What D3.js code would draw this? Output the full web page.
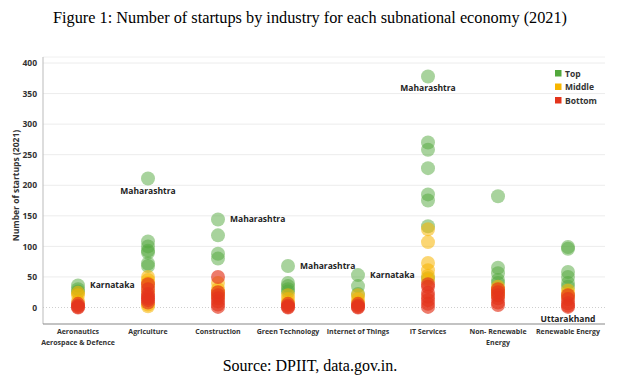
<!DOCTYPE html>
<html><head><meta charset="utf-8">
<script src="https://cdn.jsdelivr.net/npm/d3@7"></script>
<style>body{margin:0;background:#fff}svg{display:block}</style>
</head><body>
<script>
const categories = ["Aeronautics\nAerospace & Defence","Agriculture","Construction","Green Technology","Internet of Things","IT Services","Non- Renewable\nEnergy","Renewable Energy"];
const topValues = [
  [36, 30, 26],
  [211, 108, 100, 93, 90, 72, 68],
  [144, 118, 88, 80],
  [68, 40, 35, 30, 26],
  [53, 35, 22],
  [378, 270, 258, 228, 185, 175, 133, 48],
  [182, 65, 56, 45, 40],
  [99, 96, 58, 50, 40, 34]
];
const middleValues = [
  [24, 20, 10],
  [50, 45, 40, 35, 25, 5, 2],
  [40, 30, 25, 18],
  [20, 14, 8],
  [20, 14, 8],
  [128, 107, 73, 61, 52, 45],
  [34, 30, 25, 20],
  [28, 22, 17]
];
const bottomValues = [
  [6, 3, 1, 0],
  [38, 30, 22, 18, 15, 12, 8],
  [50, 25, 20, 15, 10, 5, 1],
  [6, 3, 1, 0],
  [6, 3, 1, 0],
  [38, 34, 24, 18, 12, 6, 1],
  [30, 25, 20, 15, 8, 4],
  [20, 14, 7, 3, 1]
];
const yTicks = [0, 50, 100, 150, 200, 250, 300, 350, 400];
const groups = ["Top", "Middle", "Bottom"];
const colors = ["#52a83c", "#f7b500", "#e3341c"];
const annotations = [
  {cat: 0, value: 36, name: "Karnataka", pos: "right"},
  {cat: 1, value: 211, name: "Maharashtra", pos: "below"},
  {cat: 2, value: 144, name: "Maharashtra", pos: "right"},
  {cat: 3, value: 68, name: "Maharashtra", pos: "right"},
  {cat: 4, value: 53, name: "Karnataka", pos: "right"},
  {cat: 5, value: 378, name: "Maharashtra", pos: "below"},
  {cat: 7, value: 1, name: "Uttarakhand", pos: "below"}
];

const W = 627, H = 382;
const svg = d3.select("body").append("svg").attr("width", W).attr("height", H);
const pLeft = 43, pRight = 603, pTop = 57, pBottom = 324;

const x = d3.scaleBand().domain(d3.range(categories.length)).range([pLeft, pRight]);
const y = d3.scaleLinear().domain([0, 400]).range([307.5, 63]);

svg.append("text").attr("x", 310).attr("y", 23).attr("text-anchor", "middle")
  .attr("font-family", "Liberation Serif, Times New Roman, serif").attr("font-size", 16.3)
  .attr("fill", "#000").text("Figure 1: Number of startups by industry for each subnational economy (2021)");

svg.append("text").attr("x", 310).attr("y", 371).attr("text-anchor", "middle")
  .attr("font-family", "Liberation Serif, Times New Roman, serif").attr("font-size", 16)
  .attr("fill", "#000").text("Source: DPIIT, data.gov.in.");

// grid
svg.append("g").selectAll("line").data(yTicks).join("line")
  .attr("x1", pLeft).attr("x2", pRight + 2).attr("y1", d => y(d)).attr("y2", d => y(d))
  .attr("stroke", d => d === 0 ? "#cfcfcf" : "#ececec").attr("stroke-width", 1)
  .attr("stroke-dasharray", d => d === 0 ? "1,2" : null);
svg.append("line").attr("x1", pLeft).attr("x2", pRight + 2).attr("y1", pTop).attr("y2", pTop)
  .attr("stroke", "#f0f0f0");

// y axis
const yAxis = d3.axisLeft(y).tickValues(yTicks).tickSize(0).tickPadding(6);
const gy = svg.append("g").attr("transform", `translate(${pLeft},0)`).call(yAxis);
gy.select(".domain").remove();
gy.selectAll("text").attr("font-family", "Open Sans, DejaVu Sans, sans-serif").attr("font-size", 8.5)
  .attr("font-weight", "bold").attr("fill", "#333");
svg.append("line").attr("x1", pLeft).attr("x2", pLeft).attr("y1", pTop).attr("y2", pBottom).attr("stroke", "#bbb");
svg.append("line").attr("x1", pLeft).attr("x2", pRight + 2).attr("y1", pBottom).attr("y2", pBottom).attr("stroke", "#888").attr("stroke-width", 1.2);

svg.append("text").attr("transform", `translate(19,${(pTop + pBottom) / 2 - 5}) rotate(-90)`)
  .attr("text-anchor", "middle").attr("font-family", "Open Sans, DejaVu Sans, sans-serif")
  .attr("font-size", 8.5).attr("font-weight", "bold").attr("fill", "#333").text("Number of startups (2021)");

// x labels
const gx = svg.append("g");
categories.forEach((c, i) => {
  const t = gx.append("text").attr("x", x(i) + x.bandwidth() / 2).attr("y", 334)
    .attr("text-anchor", "middle").attr("font-family", "Open Sans, DejaVu Sans, sans-serif")
    .attr("font-size", 7).attr("font-weight", "bold").attr("fill", "#333");
  c.split("\n").forEach((line, k) => t.append("tspan").attr("x", x(i) + x.bandwidth() / 2).attr("dy", k ? 11 : 0).text(line));
});

// points
const series = [topValues, middleValues, bottomValues];
const opac = [0.5, 0.55, 0.65];
series.forEach((vals, g) => {
  const pts = [];
  vals.forEach((arr, i) => arr.forEach(v => pts.push({i, v})));
  svg.append("g").selectAll("circle").data(pts).join("circle")
    .attr("cx", d => x(d.i) + x.bandwidth() / 2).attr("cy", d => y(d.v)).attr("r", 7)
    .attr("fill", colors[g]).attr("fill-opacity", opac[g]);
});

// annotations
annotations.forEach(a => {
  const cx = x(a.cat) + x.bandwidth() / 2, cy = y(a.value);
  const t = svg.append("text").attr("font-family", "Open Sans, DejaVu Sans, sans-serif")
    .attr("font-size", 8.5).attr("font-weight", "bold").attr("fill", "#222").text(a.name);
  if (a.pos === "right") t.attr("x", cx + 12).attr("y", cy + 3);
  else t.attr("x", cx).attr("y", cy + 15).attr("text-anchor", "middle");
});

// legend
const lg = svg.append("g").attr("transform", "translate(555,70)");
groups.forEach((g, k) => {
  lg.append("rect").attr("x", 0).attr("y", k * 13.5).attr("width", 6.5).attr("height", 6.5).attr("fill", colors[k]);
  lg.append("text").attr("x", 10).attr("y", k * 13.5 + 6.5).attr("font-family", "Open Sans, DejaVu Sans, sans-serif")
    .attr("font-size", 8.5).attr("font-weight", "bold").attr("fill", "#333").text(g);
});
</script>
</body></html>
